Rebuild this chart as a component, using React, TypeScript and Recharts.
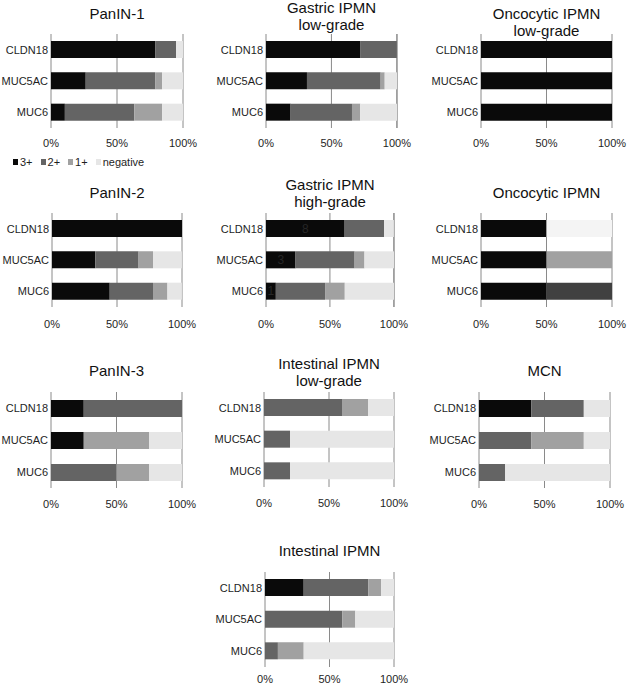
import { Bar, BarChart, CartesianGrid, Cell, LabelList, XAxis, YAxis } from "recharts";

const MARKERS = ["CLDN18", "MUC5AC", "MUC6"];
const GRADES = ["3+", "2+", "1+", "negative"];
const GRADE_COLORS = ["#0a0a0a", "#646464", "#a1a1a1", "#e6e6e6"];
const X_TICKS = [0, 50, 100];

// % of lesions per staining grade; rows follow MARKERS, columns follow GRADES
const PANIN_1 = [
  [78.9, 15.8, 0, 5.3],
  [26.3, 52.6, 5.3, 15.8],
  [10.5, 52.6, 21.1, 15.8],
];
const GASTRIC_LG = [
  [71.9, 28.1, 0, 0],
  [31.3, 56.3, 3.1, 9.4],
  [18.8, 46.9, 6.3, 28.1],
];
const ONCOCYTIC_LG = [
  [100, 0, 0, 0],
  [100, 0, 0, 0],
  [100, 0, 0, 0],
];
const PANIN_2 = [
  [100, 0, 0, 0],
  [33.3, 33.3, 11.1, 22.2],
  [44.4, 33.3, 11.1, 11.1],
];
const GASTRIC_HG = [
  [61.5, 30.8, 0, 7.7],
  [23.1, 46.2, 7.7, 23.1],
  [7.7, 38.5, 15.4, 38.5],
];
const GASTRIC_HG_COUNTS = [8, 3, 1];
const ONCOCYTIC = [
  [50, 0, 0, 50],
  [50, 0, 50, 0],
  [50, 50, 0, 0],
];
const PANIN_3 = [
  [25, 75, 0, 0],
  [25, 0, 50, 25],
  [0, 50, 25, 25],
];
const INTESTINAL_LG = [
  [0, 60, 20, 20],
  [0, 20, 0, 80],
  [0, 20, 0, 80],
];
const MCN = [
  [40, 40, 0, 20],
  [0, 40, 40, 20],
  [0, 20, 0, 80],
];
const INTESTINAL = [
  [30, 50, 10, 10],
  [0, 60, 10, 30],
  [0, 10, 20, 70],
];

// the oncocytic panel uses odd shades for two segments
const ONCOCYTIC_FILLS: Record<string, Record<number, string>> = {
  CLDN18: { 3: "#f4f4f4" },
  MUC6: { 1: "#404040" },
};

const FONT = '"Liberation Sans", Arial, Helvetica, sans-serif';
const AXIS_W = 50;
const TEXT = "#1e1e1e";

interface PanelSpec {
  title: string[];
  rows: number[][];
  x0: number; // page x of 0%
  x1: number; // page x of 100%
  y0: number; // top of plot
  y1: number; // bottom of plot
  titleY: number; // centre of first title line
  tickGap: number;
  counts?: number[];
  fills?: Record<string, Record<number, string>>;
}

const PANELS: PanelSpec[] = [
  { title: ["PanIN-1"], rows: PANIN_1, x0: 51, x1: 183, y0: 34, y1: 128, titleY: 13, tickGap: 11 },
  { title: ["Gastric IPMN", "low-grade"], rows: GASTRIC_LG, x0: 266, x1: 397, y0: 34, y1: 128, titleY: 7, tickGap: 11 },
  { title: ["Oncocytic IPMN", "low-grade"], rows: ONCOCYTIC_LG, x0: 481, x1: 612, y0: 34, y1: 128, titleY: 13, tickGap: 11 },
  { title: ["PanIN-2"], rows: PANIN_2, x0: 52, x1: 182, y0: 213, y1: 307, titleY: 192, tickGap: 13 },
  {
    title: ["Gastric IPMN", "high-grade"], rows: GASTRIC_HG, x0: 266, x1: 394, y0: 213, y1: 307,
    titleY: 184, tickGap: 13, counts: GASTRIC_HG_COUNTS,
  },
  {
    title: ["Oncocytic IPMN"], rows: ONCOCYTIC, x0: 481, x1: 612, y0: 213, y1: 307,
    titleY: 192, tickGap: 13, fills: ONCOCYTIC_FILLS,
  },
  { title: ["PanIN-3"], rows: PANIN_3, x0: 51, x1: 182, y0: 392, y1: 488, titleY: 370, tickGap: 12 },
  { title: ["Intestinal IPMN", "low-grade"], rows: INTESTINAL_LG, x0: 264, x1: 394, y0: 392, y1: 487, titleY: 363, tickGap: 12 },
  { title: ["MCN"], rows: MCN, x0: 479, x1: 610, y0: 392, y1: 488, titleY: 370, tickGap: 12 },
  { title: ["Intestinal IPMN"], rows: INTESTINAL, x0: 265, x1: 394, y0: 572, y1: 667, titleY: 550, tickGap: 8 },
];

function Panel({ p }: { p: PanelSpec }) {
  const data = MARKERS.map((m, i) => {
    const row: Record<string, string | number> = { marker: m };
    GRADES.forEach((g, j) => (row[g] = p.rows[i][j]));
    if (p.counts) row.count = p.counts[i];
    return row;
  });
  const width = p.x1 - p.x0 + AXIS_W + 20;
  const height = p.y1 - p.y0 + 26;
  const tick = { fill: TEXT, stroke: "none", fontSize: 11, fontFamily: FONT };

  return (
    <>
      <div
        style={{
          position: "absolute",
          left: p.x0 - 30,
          width: p.x1 - p.x0 + 60,
          top: p.titleY - 8.5,
          textAlign: "center",
          fontSize: 15,
          lineHeight: "17px",
          color: "#111",
          whiteSpace: "nowrap",
        }}
      >
        {p.title.map((t) => (
          <div key={t}>{t}</div>
        ))}
      </div>
      <div style={{ position: "absolute", left: p.x0 - AXIS_W, top: p.y0 }}>
        <BarChart
          width={width}
          height={height}
          data={data}
          layout="vertical"
          margin={{ top: 0, right: 20, bottom: 0, left: 0 }}
        >
          <CartesianGrid horizontal={false} stroke="#8a8a8a" strokeWidth={1} />
          <XAxis
            type="number"
            domain={[0, 100]}
            ticks={X_TICKS}
            tickFormatter={(v: number) => `${v}%`}
            stroke={TEXT}
            axisLine={false}
            tickLine={false}
            tickSize={0}
            tickMargin={p.tickGap}
            height={26}
            tick={tick}
          />
          <YAxis
            type="category"
            dataKey="marker"
            width={AXIS_W}
            interval={0}
            stroke={TEXT}
            axisLine={false}
            tickLine={false}
            tickSize={0}
            tickMargin={3}
            tick={tick}
          />
          {GRADES.map((g, j) => (
            <Bar key={g} dataKey={g} stackId="s" barSize={17} fill={GRADE_COLORS[j]} isAnimationActive={false}>
              {MARKERS.map((m) => (
                <Cell key={m} fill={p.fills?.[m]?.[j] ?? GRADE_COLORS[j]} />
              ))}
              {p.counts && j === 0 ? (
                <LabelList dataKey="count" position="center" fill="#262626" fontSize={12} fontFamily={FONT} />
              ) : null}
            </Bar>
          ))}
        </BarChart>
      </div>
    </>
  );
}

export default function App() {
  return (
    <div
      style={{
        position: "absolute",
        left: 0,
        top: 0,
        width: 630,
        height: 689,
        overflow: "hidden",
        background: "#fff",
        fontFamily: FONT,
      }}
    >
      {PANELS.map((p) => (
        <Panel key={p.title.join(" ") + p.y0} p={p} />
      ))}
      <div
        style={{
          position: "absolute",
          left: 13,
          top: 154,
          display: "flex",
          alignItems: "center",
          gap: 8,
          fontSize: 11,
          lineHeight: "16px",
          color: TEXT,
        }}
      >
        {GRADES.map((g, j) => (
          <div key={g} style={{ display: "flex", alignItems: "center", gap: 2 }}>
            <span style={{ display: "inline-block", width: 5, height: 6, background: GRADE_COLORS[j] }} />
            <span>{g}</span>
          </div>
        ))}
      </div>
    </div>
  );
}
